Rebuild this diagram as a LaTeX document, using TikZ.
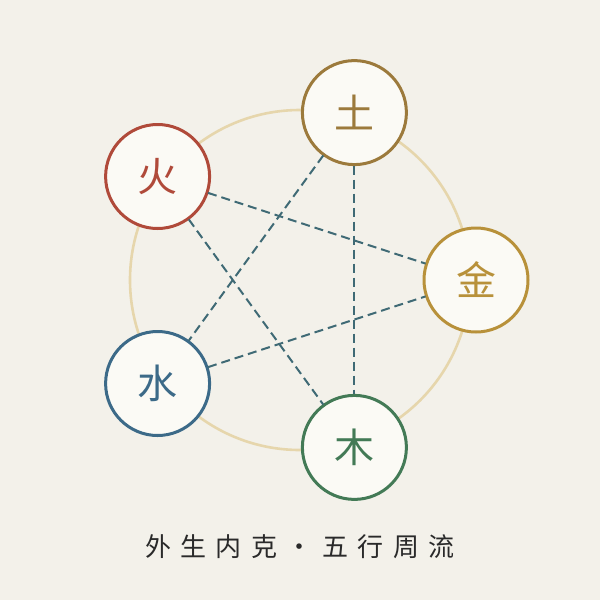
\documentclass[tikz,border=0pt]{standalone}
\usepackage{fontspec}
\newfontfamily\cjk{Noto Sans CJK SC}
\definecolor{bg}{HTML}{F3F1EA}
\definecolor{ring}{HTML}{E6D6AC}
\definecolor{dash}{HTML}{3F6A75}
\definecolor{nodefill}{HTML}{FBFAF5}
\definecolor{cearth}{HTML}{9C7A3C}
\definecolor{cfire}{HTML}{B04A3A}
\definecolor{cmetal}{HTML}{B8913A}
\definecolor{cwater}{HTML}{3C6A88}
\definecolor{cwood}{HTML}{437A56}
\definecolor{ink}{HTML}{2A2A2A}
\tikzset{
  elem/.style={circle, draw=#1, text=#1, line width=3pt, fill=nodefill,
    minimum size=104pt, inner sep=0pt, outer sep=1pt, font=\cjk\fontsize{40}{40}\selectfont},
  ke/.style={draw=dash, line width=2pt, dash pattern=on 9pt off 5pt},
}
\newcommand{\gp}{\hspace{9.5pt}}
\begin{document}
\begin{tikzpicture}[x=1pt,y=-1pt]
\fill[bg] (0,0) rectangle (600,600);
\useasboundingbox (0,0) rectangle (600,600);
\coordinate (c) at (300,280);
\draw[ring, line width=2.6pt] (c) circle[radius=170];
\node[elem=cearth] (tu) at (354.4,112.6) {土};
\node[elem=cmetal] (jin) at (476,280) {金};
\node[elem=cwood] (mu) at (354.4,447.4) {木};
\node[elem=cwater] (shui) at (157.6,383.5) {水};
\node[elem=cfire] (huo) at (157.6,176.5) {火};
\draw[ke] (huo) -- (jin);
\draw[ke] (huo) -- (mu);
\draw[ke] (tu) -- (shui);
\draw[ke] (tu) -- (mu);
\draw[ke] (shui) -- (jin);
\node[text=ink, font=\cjk\fontsize{26}{26}\selectfont] (motto) at (300,547)
  {外\gp 生\gp 内\gp 克\gp ·\gp 五\gp 行\gp 周\gp 流};
\end{tikzpicture}
\end{document}
